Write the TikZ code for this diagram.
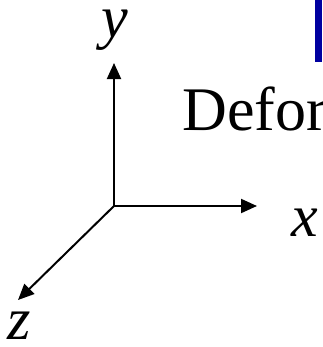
\documentclass[tikz,border=0pt]{standalone}
\usepackage{fontspec}
\setmainfont{Liberation Serif}
\usetikzlibrary{arrows.meta}
\definecolor{slideBlue}{RGB}{0,0,160}

\begin{document}
\begin{tikzpicture}[x=0.75pt,y=-0.75pt,
  axis/.style={-{Triangle[length=12pt,width=10.5pt]},line width=1.5pt},
  lbl/.style={inner sep=0pt,anchor=base,font=\fontsize{45}{54}\selectfont\itshape}
]
  \useasboundingbox (0,0) rectangle (322,347);
  \fill[slideBlue] (315,0) rectangle (322,62);
  \node[inner sep=0pt,anchor=base west,font=\fontsize{46.5}{56}\selectfont] (title) at (182,130) {Defor};
  \coordinate (o) at (114,206);
  \coordinate (ytip) at (114,63);
  \coordinate (xtip) at (257,206);
  \coordinate (ztip) at (18,300);
  \draw[axis] (o) -- (ytip);
  \draw[axis] (o) -- (xtip);
  \draw[axis] (o) -- (ztip);
  \node[lbl] (ylab) at (115,37) {y};
  \node[lbl] (xlab) at (305,236) {x};
  \node[lbl] (zlab) at (19,339) {z};
\end{tikzpicture}
\end{document}
